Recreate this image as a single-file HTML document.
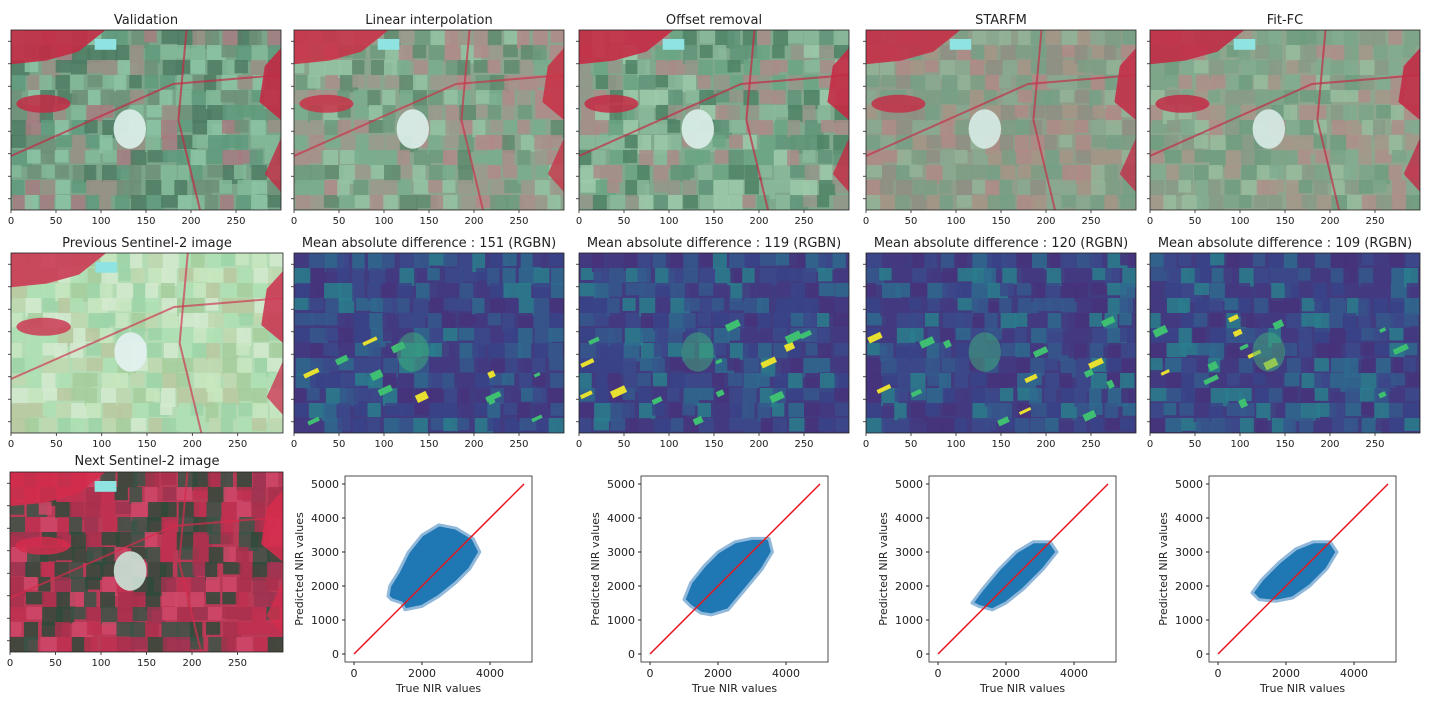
<!DOCTYPE html>
<html><head><meta charset="utf-8">
<style>
body{margin:0;background:#fff;width:1433px;height:706px;overflow:hidden;font-family:"Liberation Sans","DejaVu Sans",sans-serif;}
svg text{font-family:"DejaVu Sans","Liberation Sans",sans-serif;fill:#222;}
</style></head>
<body>
<svg id="fig" width="1433" height="706" xmlns="http://www.w3.org/2000/svg"><defs id="defs"></defs></svg>
<script>
// scatter data: hull outlines of point clouds [trueNIR, predictedNIR]
const scatterTitles = ["Linear interpolation","Offset removal","STARFM","Fit-FC"];
const hullLinear = [[1000,1700],[1050,2000],[1300,2400],[1600,3000],[2000,3500],[2500,3800],[3000,3700],[3500,3400],[3700,3000],[3400,2500],[3000,2100],[2500,1700],[2000,1400],[1500,1300],[1400,1500],[1100,1600]];
const hullOffset = [[1000,1600],[1200,2100],[1600,2600],[2000,3000],[2500,3300],[3000,3400],[3500,3400],[3600,3000],[3300,2500],[2800,1900],[2300,1300],[1800,1150],[1500,1200],[1200,1400]];
const hullStarfm = [[1000,1500],[1300,1900],[1800,2500],[2300,3000],[2800,3300],[3300,3300],[3500,3000],[3100,2500],[2500,1900],[2000,1500],[1600,1300],[1200,1400]];
const hullFitfc = [[1000,1800],[1300,2200],[1800,2700],[2300,3100],[2800,3300],[3300,3300],[3500,3000],[3200,2500],[2700,2000],[2200,1650],[1700,1550],[1200,1600]];
const identityLine = [[0,0],[5000,5000]];
const xTicks = [0,2000,4000];
const yTicks = [0,1000,2000,3000,4000,5000];
const imgXTicks = [0,50,100,150,200,250];
const maeValues = [151,119,120,109];

const NS="http://www.w3.org/2000/svg";
const svg=document.getElementById('fig');
const defs=document.getElementById('defs');
function el(tag,attrs,parent){const e=document.createElementNS(NS,tag);for(const k in attrs)e.setAttribute(k,attrs[k]);(parent||svg).appendChild(e);return e;}
function txt(s,x,y,size,anchor,parent){const t=el('text',{x:x,y:y,'font-size':size,'text-anchor':anchor||'middle'},parent);t.textContent=s;return t;}

function hash(i,j,s){let h=(i*374761393+j*668265263+s*982451653)|0;h=(h^(h>>>13))*1274126177|0;return ((h^(h>>>16))>>>0)/4294967296;}

const palettes={
 val:{base:'#7aa58a',cells:['#5f9a7c','#82b898','#9a8f85','#6f8f78','#a57d80','#4e7d64','#8cc4a4'],red:'#c32a44',town:'#d8ece6'},
 lin:{base:'#8aa58e',cells:['#79ad8e','#9b9a8c','#b08a88','#6c9a7e','#93c3a3','#a98e8a','#5e8a6e'],red:'#c83448',town:'#d8ece6'},
 off:{base:'#7fa88c',cells:['#6aa484','#8ab99a','#a88c88','#5f9478','#9ccaa9','#93968a','#4f8266'],red:'#c52a44',town:'#d8ece6'},
 sta:{base:'#8f9e8a',cells:['#8aa890','#a69486','#7d9e84','#b08a86','#93b396','#8e8e82','#76a086'],red:'#c33048',town:'#d4e8e2'},
 fit:{base:'#8ea68e',cells:['#80ac90','#a4988a','#7ba488','#ae8e8a','#96bc9c','#879a86','#6f9c80'],red:'#c22c46',town:'#d4e8e2'},
 prev:{base:'#b4dcb4',cells:['#aee0b4','#c8e6c0','#9cd4a8','#bfd8b0','#d4ead0','#a6cc9c','#b8c8a0'],red:'#cc3a54',town:'#e2f0ee'},
 next:{base:'#b83a56',cells:['#c03050','#d04868','#2f4a3a','#a8304c','#3a5446','#2e4a3a','#9c3450'],red:'#d42c4c',town:'#c8dcd2'},
 diff:{base:'#413b80',cells:['#3b4a8a','#2f6a8e','#443a80','#2a7e8c','#47327a','#35588c','#3a4488'],red:'#404a8a',town:'#40b07a',diff:true}
};

let clipId=0;
function drawScene(x,y,w,h,pal,seed,name){
 const g=el('g',{},svg);
 
 
 const cid='clip'+(clipId++);
 const cp=el('clipPath',{id:cid},defs);
 el('rect',{x:x,y:y,width:w,height:h},cp);
 const inner=el('g',{'clip-path':`url(#${cid})`},g);
 el('rect',{x:x,y:y,width:w,height:h,fill:pal.base},inner);
 const nx=18,ny=12,cw=w/nx,ch=h/ny;
 for(let i=0;i<nx;i++)for(let j=0;j<ny;j++){
  const r=hash(i,j,seed);
  const c=pal.cells[Math.floor(hash(i,j,seed+7)*pal.cells.length)];
  el('rect',{x:x+i*cw+(r-0.5)*4,y:y+j*ch,width:cw*(0.8+r*0.6),height:ch*(0.8+hash(j,i,seed)*0.5),fill:c,opacity:0.85},inner);
 }
 if(!pal.diff){
  el('path',{d:`M${x} ${y}h${w*0.35}l-${w*0.1} ${h*0.12}l-${w*0.12} ${h*0.05}l-${w*0.13} ${h*0.02}z`,fill:pal.red,opacity:0.9},inner);
  el('ellipse',{cx:x+w*0.12,cy:y+h*0.41,rx:w*0.1,ry:h*0.05,fill:pal.red,opacity:0.85},inner);
  el('path',{d:`M${x+w} ${y+h*0.1}v${h*0.4}l-${w*0.08} -${h*0.1}l${w*0.02} -${h*0.2}z`,fill:pal.red,opacity:0.9},inner);
  el('path',{d:`M${x+w} ${y+h*0.6}v${h*0.3}l-${w*0.06} -${h*0.1}z`,fill:pal.red,opacity:0.8},inner);
  el('rect',{x:x+w*0.31,y:y+h*0.05,width:w*0.08,height:h*0.06,fill:'#8fe3e0'},inner);
  el('path',{d:`M${x} ${y+h*0.7}L${x+w*0.3} ${y+h*0.5}L${x+w*0.6} ${y+h*0.3}L${x+w} ${y+h*0.25}`,stroke:pal.red,'stroke-width':2,fill:'none',opacity:0.7},inner);
  el('path',{d:`M${x+w*0.65} ${y}L${x+w*0.62} ${y+h*0.5}L${x+w*0.7} ${y+h}`,stroke:pal.red,'stroke-width':2,fill:'none',opacity:0.7},inner);
 }else{
  for(let k=0;k<14;k++){
   const px=x+hash(k,3,seed)*w*0.9,py=y+h*0.35+hash(k,5,seed)*h*0.6;
   el('rect',{x:px,y:py,width:6+hash(k,1,seed)*10,height:3+hash(k,2,seed)*5,fill:k%3==0?'#e8e030':'#3fbf72',transform:`rotate(-25 ${px} ${py})`},inner);
  }
 }
 el('ellipse',{cx:x+w*0.44,cy:y+h*0.55,rx:w*0.06,ry:h*0.11,fill:pal.town,opacity:pal.diff?0.5:0.95},inner);
 el('rect',{x:x,y:y,width:w,height:h,fill:'none',stroke:'#222','stroke-width':0.8},g);
 for(let k=0;k<imgXTicks.length;k++){
  const tx=x+imgXTicks[k]/300*w;
  el('line',{x1:tx,y1:y+h,x2:tx,y2:y+h+3,stroke:'#222','stroke-width':0.8},g);
  txt(String(imgXTicks[k]),tx,y+h+14,h>185?11:10,'middle',g);
 }
 for(let k=0;k<8;k++){const ty=y+h*(k+0.5)/8;el('line',{x1:x-3,y1:ty,x2:x,y2:ty,stroke:'#222','stroke-width':0.8},g);}
 return g;
}

function title(s,cx,y,name){const t=txt(s,cx,y,13);}

const colsX=[11,294,579,866,1150];
const W=270,H=180;
const r1=['val','lin','off','sta','fit'];
const r1t=['Validation','Linear interpolation','Offset removal','STARFM','Fit-FC'];
for(let c=0;c<5;c++){drawScene(colsX[c],30,W,H,palettes[r1[c]],c+1,'image-'+r1t[c].toLowerCase().replace(/[^a-z]+/g,'-'));title(r1t[c],colsX[c]+W/2,24,'title-'+r1[c]);}
drawScene(11,253,272,H,palettes.prev,11,'image-previous-sentinel2');title('Previous Sentinel-2 image',147,247,'title-previous');
for(let c=1;c<5;c++){drawScene(colsX[c],253,W,H,palettes.diff,20+c,'diff-map-'+r1[c]);title('Mean absolute difference : '+maeValues[c-1]+' (RGBN)',colsX[c]+W/2,247,'title-diff-'+r1[c]);}
drawScene(10,472,273,H,palettes.next,31,'image-next-sentinel2');title('Next Sentinel-2 image',147,465,'title-next');

const hulls=[hullLinear,hullOffset,hullStarfm,hullFitfc];
const offs=[0,296,584,864];
for(let p=0;p<4;p++){
 const L=345+offs[p],R=532+offs[p],T=476,B=662;
 const x0=354+offs[p],x1=524+offs[p],y0=654,y1=484;
 const sx=v=>x0+(x1-x0)*v/5000, sy=v=>y0+(y1-y0)*v/5000;
 const g=el('g',{});
 
 
 el('rect',{x:L,y:T,width:R-L,height:B-T,fill:'#fff',stroke:'#222','stroke-width':0.8},g);
 const cloud=el('polygon',{points:hulls[p].map(q=>sx(q[0])+','+sy(q[1])).join(' '),fill:'#1f77b4',stroke:'#8fb8da','stroke-width':3,'stroke-linejoin':'round'},g);
 
 
 const ln=el('line',{x1:sx(identityLine[0][0]),y1:sy(identityLine[0][1]),x2:sx(identityLine[1][0]),y2:sy(identityLine[1][1]),stroke:'#e8161b','stroke-width':1.5},g);
 
 
 for(const v of xTicks){el('line',{x1:sx(v),y1:B,x2:sx(v),y2:B+3,stroke:'#222'},g);txt(String(v),sx(v),B+15,11,'middle',g);}
 for(const v of yTicks){el('line',{x1:L-3,y1:sy(v),x2:L,y2:sy(v),stroke:'#222'},g);txt(String(v),L-6,sy(v)+4,11,'end',g);}
 const xl=txt('True NIR values',(L+R)/2,692,11,'middle',g);
 
 
 const yl=txt('Predicted NIR values',0,0,11,'middle',g);
 yl.setAttribute('transform',`translate(${L-42},${(T+B)/2}) rotate(-90)`);
 
 
}
</script>
</body></html>
